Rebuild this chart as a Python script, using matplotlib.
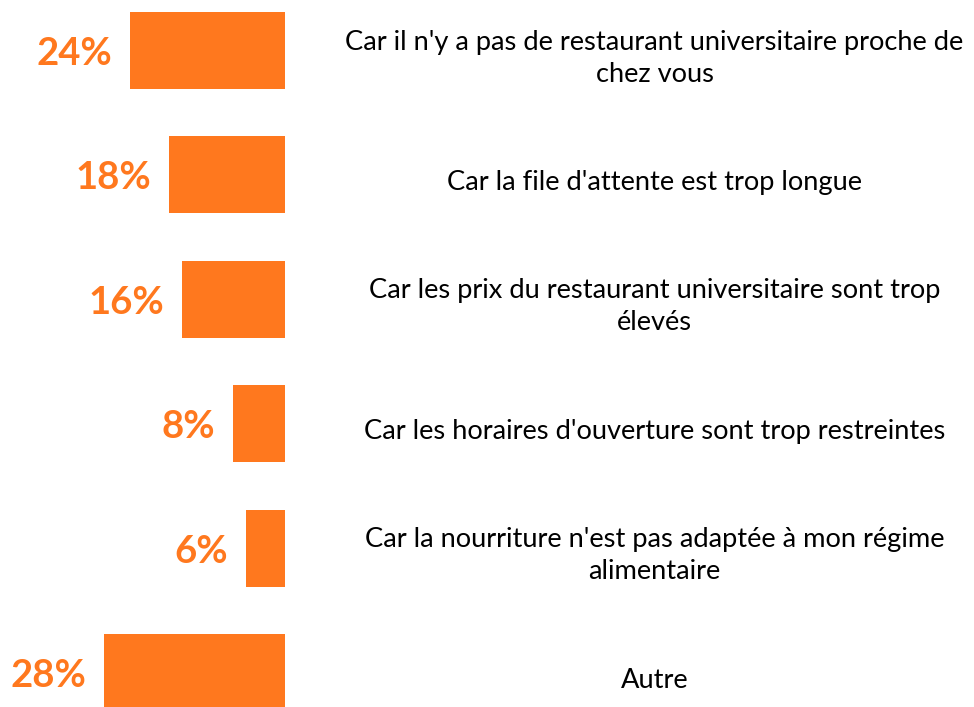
import matplotlib
matplotlib.use("Agg")
import matplotlib.pyplot as plt
import matplotlib.transforms as mtransforms

plt.rcParams['font.family'] = ['Lato', 'DejaVu Sans']

# data, top to bottom
reasons = [
    "Car il n'y a pas de restaurant universitaire proche de\nchez vous",
    "Car la file d'attente est trop longue",
    "Car les prix du restaurant universitaire sont trop\nélevés",
    "Car les horaires d'ouverture sont trop restreintes",
    "Car la nourriture n'est pas adaptée à mon régime\nalimentaire",
    "Autre",
]
shares = [24, 18, 16, 8, 6, 28]

ORANGE = '#FF781E'

fig = plt.figure(figsize=(9.74, 7.07), dpi=100)
# bar area: left part of the figure, bars grow leftwards from x=285px
ax = fig.add_axes([0, 0, 285 / 974, 1])

pos = list(range(len(shares)))
ax.barh(pos, shares, height=0.62, color=ORANGE)
ax.set_xlim(44.2, 0)
ax.set_ylim(5.277, -0.406)
ax.axis('off')

for p, v in zip(pos, shares):
    ax.annotate(f"{v}%", xy=(v, p), xytext=(-13, -2.5), textcoords='offset points',
                ha='right', va='center', fontsize=27.5, fontweight='bold',
                color=ORANGE)

# category labels on the right, centred horizontally in figure space
trans = mtransforms.blended_transform_factory(fig.transFigure, ax.transData)
for p, txt in zip(pos, reasons):
    ax.annotate(txt, xy=(0.672, p), xycoords=trans, xytext=(0, -5.5),
                textcoords='offset points', ha='center', va='center',
                fontsize=19.6, color='black', linespacing=1.35,
                annotation_clip=False)

fig.savefig('out.png', dpi=100)
